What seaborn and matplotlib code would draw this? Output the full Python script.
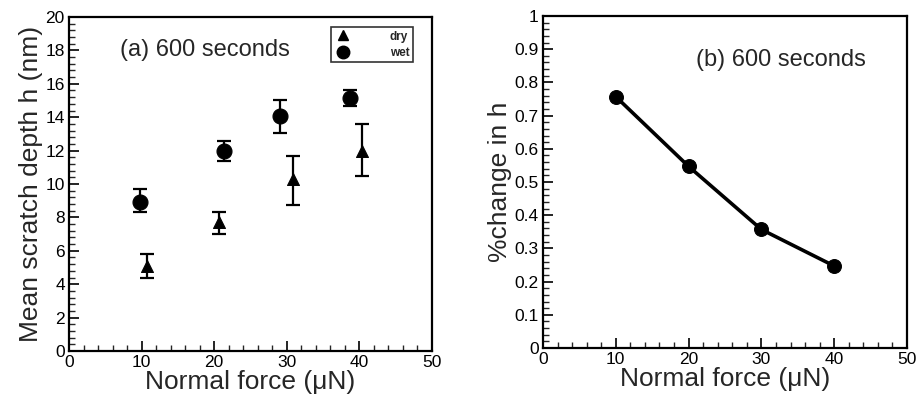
import matplotlib
matplotlib.use("Agg")
import matplotlib.pyplot as plt
import seaborn as sns
import pandas as pd
from matplotlib.ticker import MultipleLocator
from matplotlib.lines import Line2D

# Data (panel a)
dry_x = [10.8, 20.7, 30.8, 40.3]
dry_y = [5.1, 7.7, 10.3, 12.0]
dry_lo = [4.4, 7.0, 8.75, 10.5]
dry_hi = [5.8, 8.35, 11.7, 13.6]
wet_x = [9.8, 21.4, 29.0, 38.7]
wet_y = [8.95, 11.96, 14.05, 15.15]
wet_lo = [8.3, 11.35, 13.05, 14.7]
wet_hi = [9.7, 12.55, 15.05, 15.6]

# Data (panel b)
force = [10, 20, 30, 40]
pct_change = [0.757, 0.547, 0.357, 0.247]

sns.set_theme(style="ticks")
plt.rcParams['font.family'] = ['Liberation Sans', 'DejaVu Sans']

fig = plt.figure(figsize=(9.16, 3.98), dpi=100)
W, H = 916, 398
axA = fig.add_axes([69 / W, 1 - 351 / H, (432 - 69) / W, (351 - 17) / H])
axB = fig.add_axes([543 / W, 1 - 348 / H, (907 - 543) / W, (348 - 16) / H])

df_dry = pd.DataFrame({"x": dry_x, "y": dry_y})
df_wet = pd.DataFrame({"x": wet_x, "y": wet_y})

for xs, ys, lo, hi in [(dry_x, dry_y, dry_lo, dry_hi), (wet_x, wet_y, wet_lo, wet_hi)]:
    yerr = [[y - l for y, l in zip(ys, lo)], [h - y for y, h in zip(ys, hi)]]
    axA.errorbar(xs, ys, yerr=yerr, fmt="none", ecolor="black", elinewidth=1.6,
                 capsize=5, capthick=1.6, zorder=2)

sns.scatterplot(data=df_dry, x="x", y="y", marker="^", s=75, color="black",
                edgecolor="black", ax=axA, zorder=3, legend=False)
sns.scatterplot(data=df_wet, x="x", y="y", marker="o", s=115, color="black",
                edgecolor="black", ax=axA, zorder=3, legend=False)

df_b = pd.DataFrame({"x": force, "y": pct_change})
sns.lineplot(data=df_b, x="x", y="y", color="black", linewidth=2.6, marker="o",
             markersize=10, markeredgecolor="black", ax=axB)

for ax in (axA, axB):
    ax.set_xlim(0, 50)
    ax.xaxis.set_major_locator(MultipleLocator(10))
    ax.xaxis.set_minor_locator(MultipleLocator(2))
    ax.tick_params(which="major", direction="in", length=7, width=1.2,
                   labelsize=12.5, pad=3, colors="black", top=False, right=False)
    ax.tick_params(which="minor", direction="in", length=4, width=1.0,
                   top=False, right=False)
    for s in ax.spines.values():
        s.set_linewidth(1.6)
        s.set_color("black")
        s.set_visible(True)
    ax.set_xlabel("Normal force (μN)", fontsize=19, labelpad=0)
    ax.grid(False)
    ax.set_facecolor("white")

axA.set_ylim(0, 20)
axA.yaxis.set_major_locator(MultipleLocator(2))
axA.yaxis.set_minor_locator(MultipleLocator(0.4))
axA.set_ylabel("Mean scratch depth h (nm)", fontsize=19, labelpad=2)
axA.text(0.14, 0.9, "(a) 600 seconds", transform=axA.transAxes, fontsize=17,
         va="center", ha="left")

axB.set_ylim(0, 1)
axB.yaxis.set_major_locator(MultipleLocator(0.1))
axB.yaxis.set_minor_locator(MultipleLocator(0.02))
axB.yaxis.set_major_formatter(matplotlib.ticker.FuncFormatter(
    lambda v, p: "0" if abs(v) < 1e-9 else ("1" if abs(v - 1) < 1e-9 else f"{v:.1f}")))
axB.set_ylabel("%change in h", fontsize=19, labelpad=2)
axB.text(0.42, 0.867, "(b) 600 seconds", transform=axB.transAxes, fontsize=17,
         va="center", ha="left")

handles = [Line2D([], [], marker="^", color="black", linestyle="none", markersize=7),
           Line2D([], [], marker="o", color="black", linestyle="none", markersize=9)]
leg = axA.legend(handles, ["dry", "wet"], loc="upper right",
                 bbox_to_anchor=(0.948, 0.97), frameon=True, fancybox=False,
                 edgecolor="black", handletextpad=3.2, borderpad=0.3,
                 handlelength=1.5, labelspacing=0.35, borderaxespad=0,
                 prop={"size": 8.5, "weight": "bold"})
leg.get_frame().set_linewidth(1.2)

fig.savefig("out.png", dpi=100, facecolor="white")
